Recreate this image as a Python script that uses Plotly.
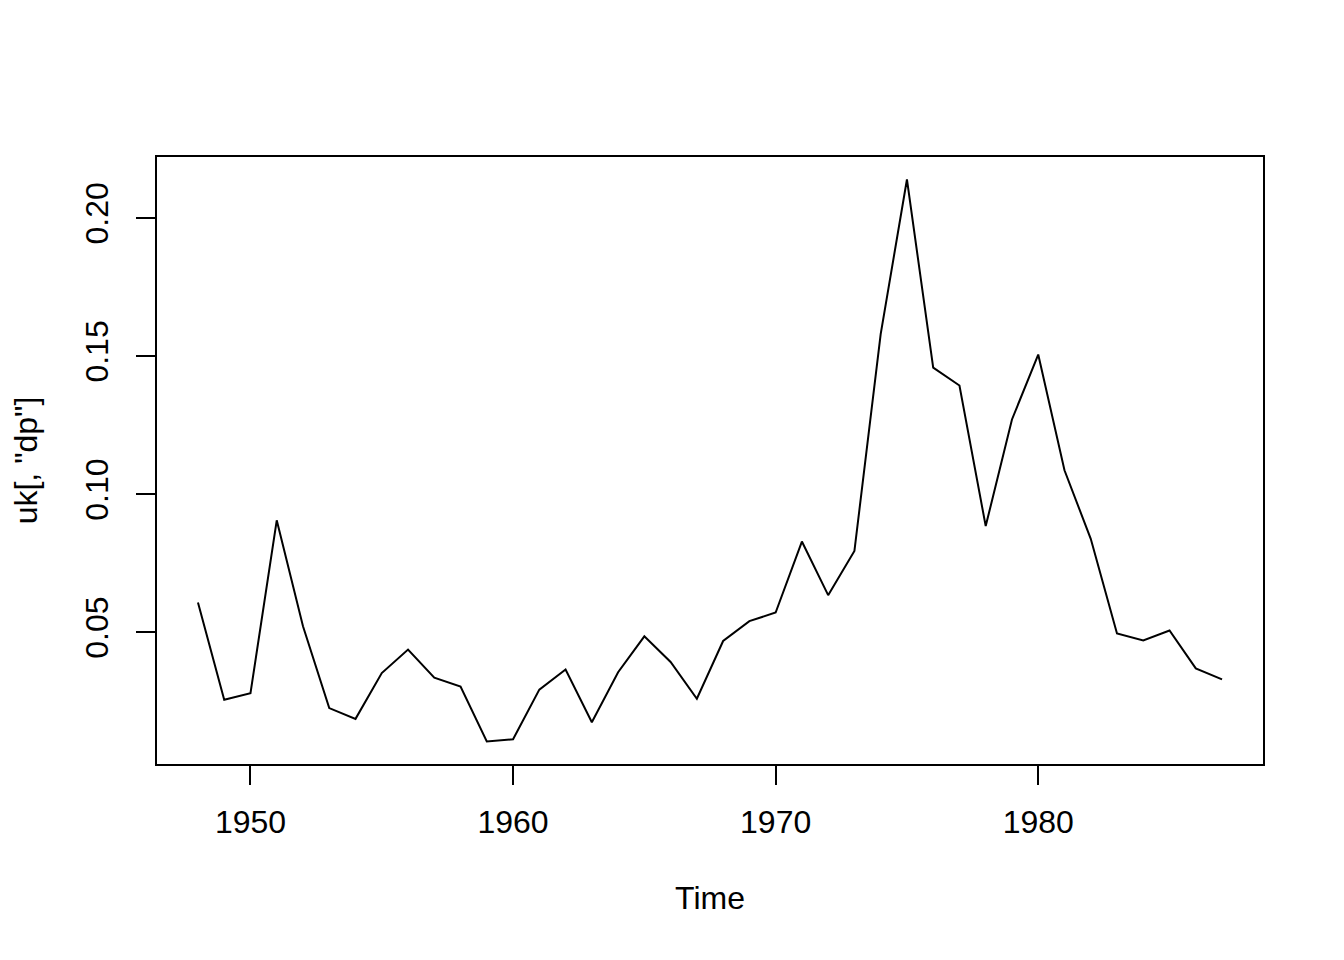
import plotly.graph_objects as go

# yearly series uk[, "dp"], 1948-1987
years = list(range(1948, 1988))
dp = [
    0.0608, 0.0256, 0.0280, 0.0906, 0.0522, 0.0226, 0.0187, 0.0353, 0.0438, 0.0336,
    0.0304, 0.0105, 0.0113, 0.0293, 0.0366, 0.0175, 0.0356, 0.0486, 0.0393, 0.0260,
    0.0469, 0.0541, 0.0572, 0.0829, 0.0635, 0.0795, 0.1580, 0.2140, 0.1459, 0.1394,
    0.0885, 0.1271, 0.1506, 0.1087, 0.0839, 0.0496, 0.0471, 0.0507, 0.0370, 0.0330,
]
x_ticks = [1950, 1960, 1970, 1980]
y_ticks = [0.05, 0.10, 0.15, 0.20]

# R-style 4% padding around the data range
x_pad = (max(years) - min(years)) * 0.04
y_pad = (max(dp) - min(dp)) * 0.04

font = dict(family="Liberation Sans, Arial, sans-serif", size=32, color="black")

fig = go.Figure()
fig.add_trace(go.Scatter(
    x=years, y=dp,
    mode="lines",
    line=dict(color="black", width=2),
    showlegend=False,
))

axis_common = dict(
    showline=True, mirror=True, linecolor="black", linewidth=2,
    showgrid=False, zeroline=False,
    ticks="outside", ticklen=19, tickwidth=2, tickcolor="black",
    tickfont=font,
)

# page body adds an 8px offset, margins compensate for it
fig.update_layout(
    width=1344, height=960,
    margin=dict(l=149, r=89, t=149, b=204),
    paper_bgcolor="white",
    plot_bgcolor="white",
    font=font,
    xaxis=dict(
        range=[min(years) - x_pad, max(years) + x_pad],
        tickvals=x_ticks,
        ticktext=[str(v) for v in x_ticks],
        ticklabelstandoff=10,
        title=dict(text="Time", font=font, standoff=47),
        **axis_common
    ),
    yaxis=dict(
        range=[min(dp) - y_pad, max(dp) + y_pad],
        tickvals=y_ticks,
        ticktext=["%.2f" % v for v in y_ticks],
        tickangle=-90,
        ticklabelstandoff=15,
        title=dict(text='uk[, "dp"]', font=font, standoff=33),
        **axis_common
    ),
)

fig.write_html("out.html", config={"displayModeBar": False})
